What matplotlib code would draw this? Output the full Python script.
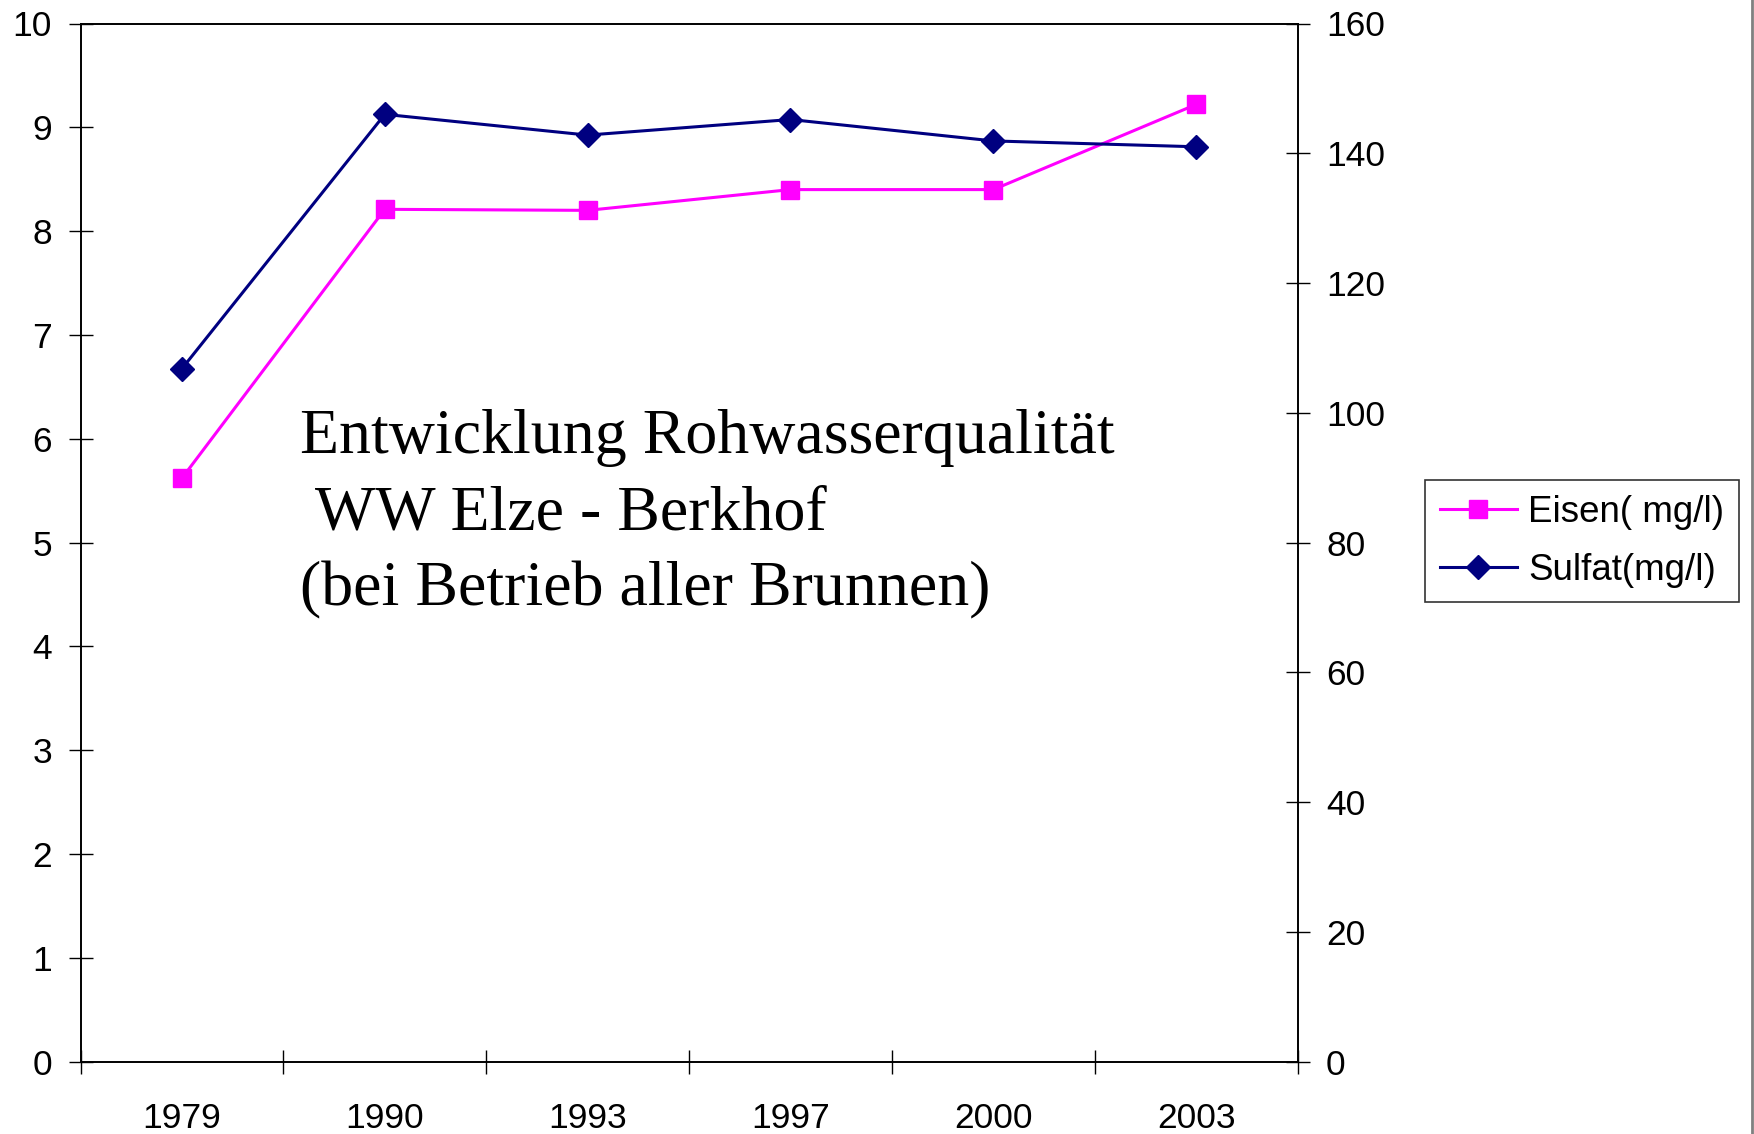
import matplotlib
matplotlib.use("Agg")
import matplotlib.pyplot as plt
from matplotlib.lines import Line2D

years = ["1979", "1990", "1993", "1997", "2000", "2003"]
eisen = [5.62, 8.21, 8.20, 8.40, 8.40, 9.22]
sulfat = [106.8, 146.0, 142.8, 145.2, 141.9, 141.0]
left_ticks = [0, 1, 2, 3, 4, 5, 6, 7, 8, 9, 10]
right_ticks = [0, 20, 40, 60, 80, 100, 120, 140, 160]
title_lines = ["Entwicklung Rohwasserqualität", " WW Elze - Berkhof", "(bei Betrieb aller Brunnen)"]
labels = ["Eisen( mg/l)", "Sulfat(mg/l)"]

plt.rcParams['font.family'] = ['Liberation Sans', 'DejaVu Sans']

fig = plt.figure(figsize=(17.54, 11.34), dpi=100)
ax = fig.add_axes([80.5/1754, 1 - 1061.6/1134, (1297.6-80.5)/1754, (1061.6-23.5)/1134])
ax2 = ax.twinx()

x = list(range(len(years)))
magenta = "#FF00FF"
navy = "#000080"

ax.plot(x, eisen, color=magenta, lw=2.2, marker='s', ms=13, mfc=magenta, mec=magenta, zorder=3)
ax2.plot(x, sulfat, color=navy, lw=2.2, marker='D', ms=12, mfc=navy, mec=navy, zorder=3)

ax.set_xlim(-0.5, len(years) - 0.5)
ax.set_ylim(0, 10)
ax2.set_ylim(0, 160)

ax.set_xticks(x)
ax.set_xticklabels(years)
ax.set_xticks([i - 0.5 for i in range(len(years) + 1)], minor=True)
ax.tick_params(axis='x', which='major', length=0, pad=29, labelsize=25.5)
ax.tick_params(axis='x', which='minor', direction='inout', length=17, width=1)

ax.set_yticks(left_ticks)
ax.tick_params(axis='y', which='major', direction='inout', length=17, width=1, pad=12, labelsize=25.5)
ax2.set_yticks(right_ticks)
ax2.tick_params(axis='y', which='major', direction='inout', length=17, width=1, pad=12, labelsize=25.5)

for a in (ax, ax2):
    for s in a.spines.values():
        s.set_color('black')
        s.set_linewidth(1.2)

ax.text(0.18, 0.527, "\n".join(title_lines), transform=ax.transAxes,
        fontsize=46, family=['Liberation Serif', 'DejaVu Serif'], va='center', ha='left',
        linespacing=1.41)

handles = [
    Line2D([0], [0], color=magenta, lw=2.2, marker='s', ms=13, mfc=magenta, mec=magenta),
    Line2D([0], [0], color=navy, lw=2.2, marker='D', ms=12, mfc=navy, mec=navy),
]
leg = fig.legend(handles, labels, loc='upper left', bbox_to_anchor=(1425/1754, 1 - 480/1134),
                 fontsize=26.5, frameon=True, fancybox=False, edgecolor='black',
                 handlelength=2.1, handletextpad=0.3, labelspacing=0.62, borderpad=0.4,
                 borderaxespad=0)
leg.get_frame().set_linewidth(1.2)

fig.add_artist(Line2D([1751.5/1754, 1751.5/1754], [0, 1], transform=fig.transFigure,
                      color='#808080', lw=2))

fig.savefig("out.png", dpi=100)
